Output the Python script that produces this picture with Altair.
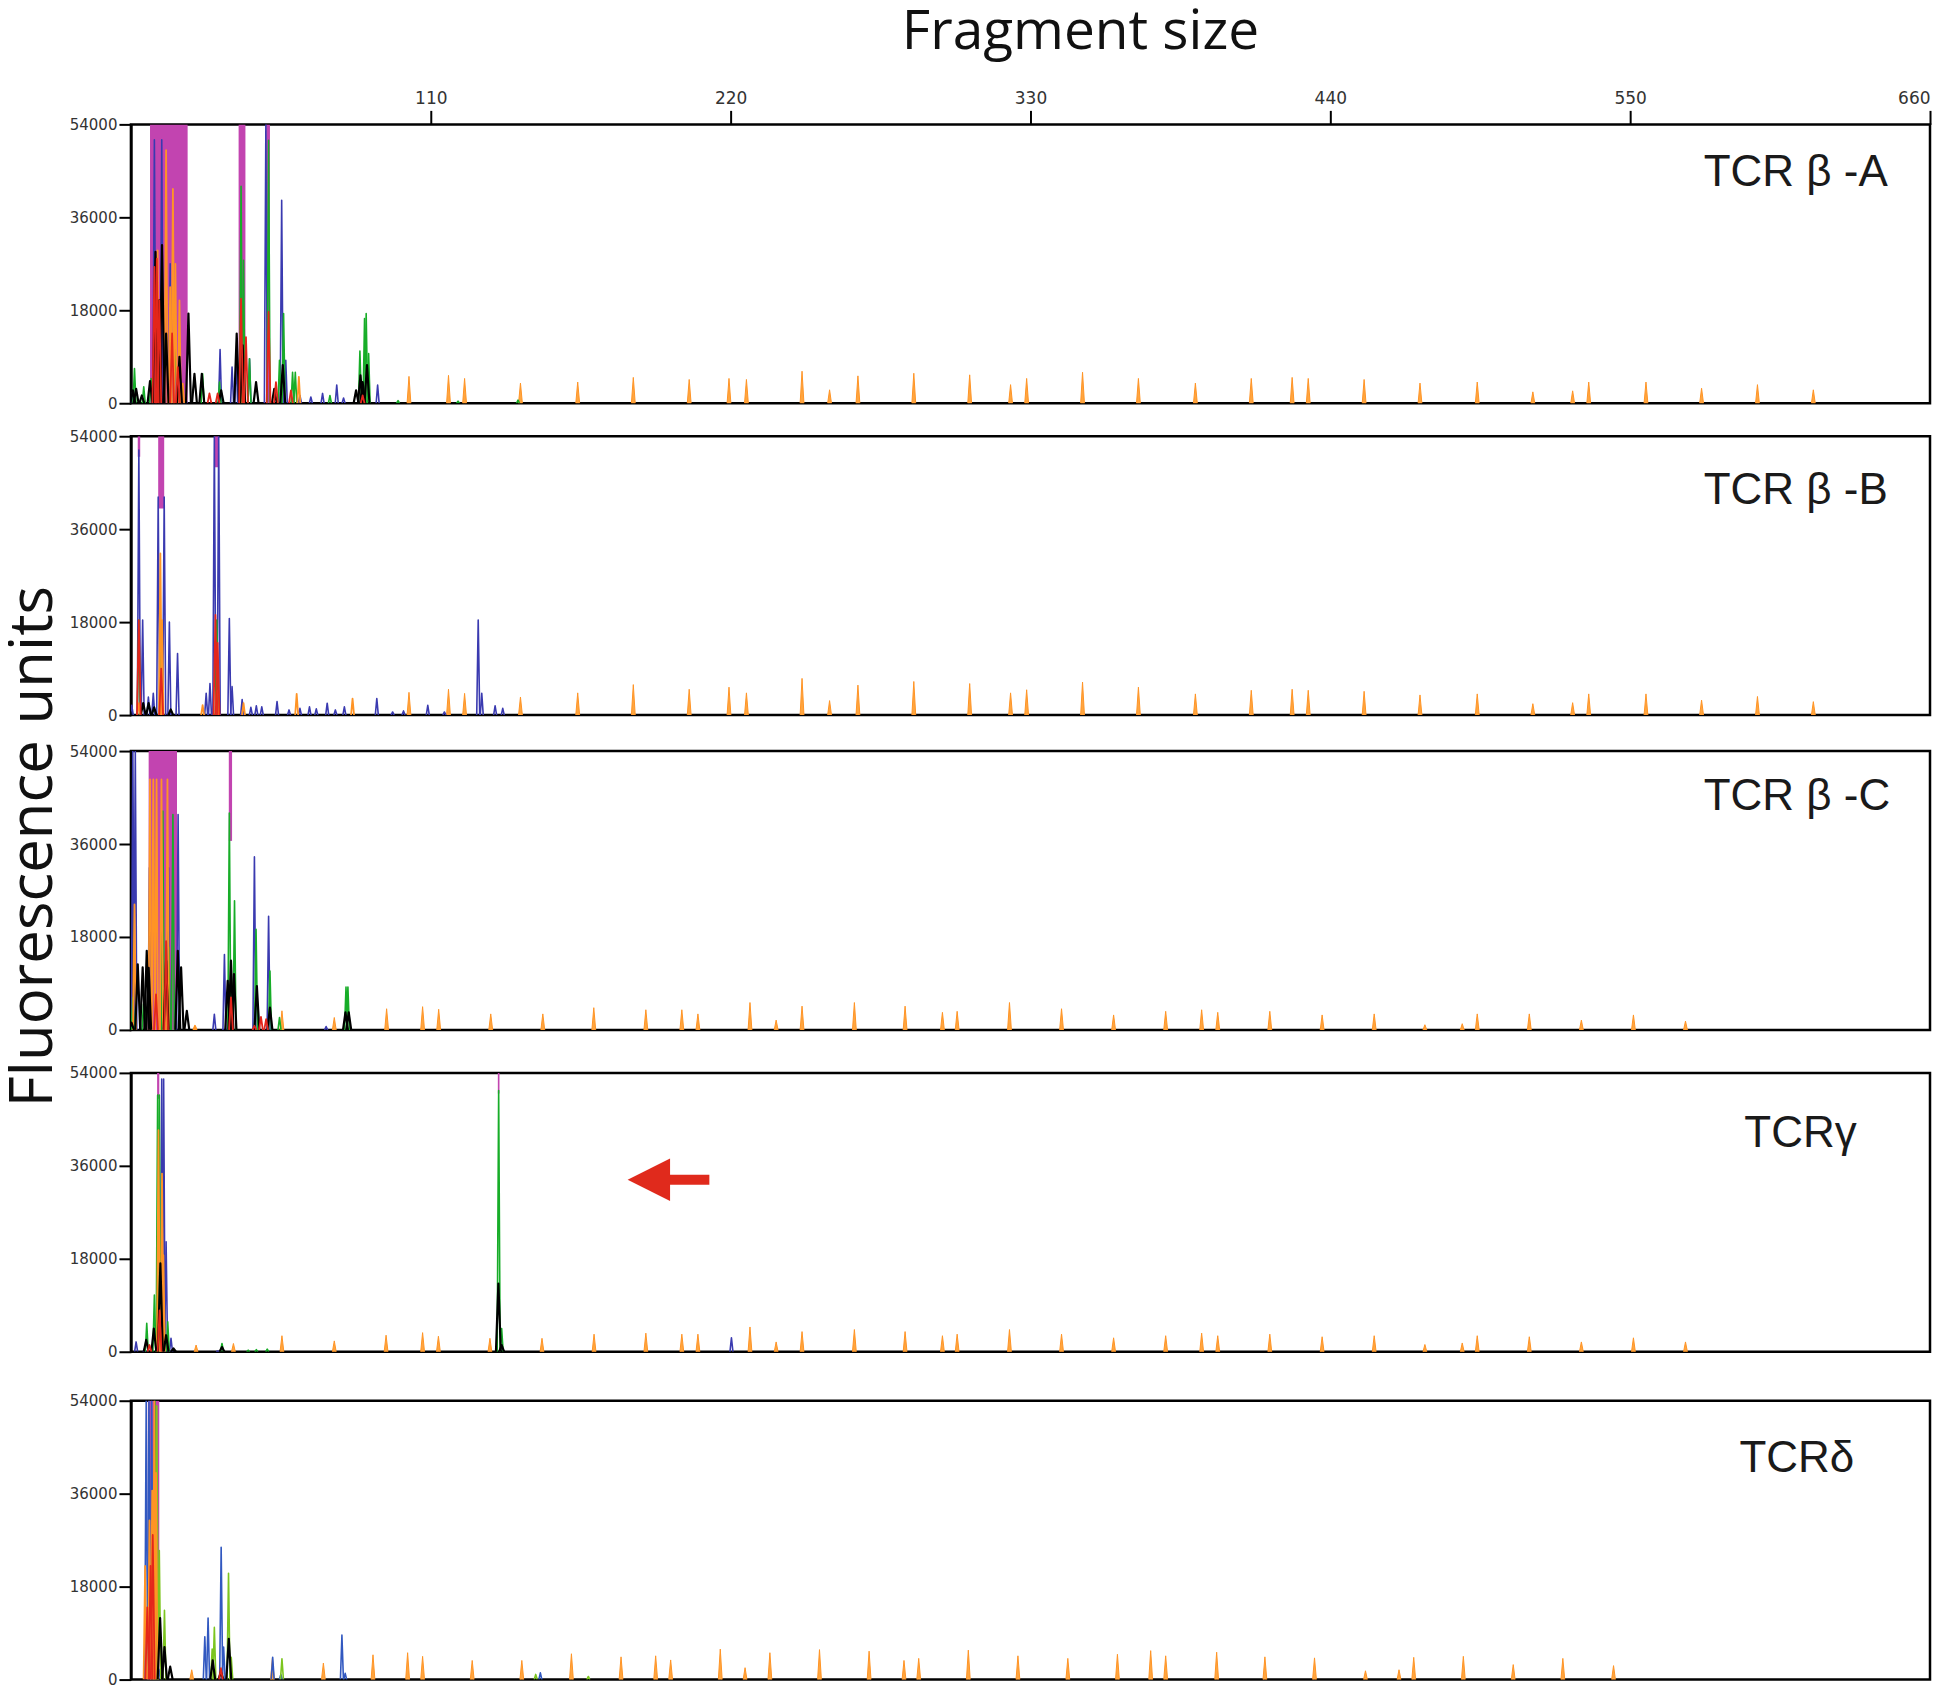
import altair as alt
import pandas as pd

# ---------------- data (fragment size, fluorescence units) ----------------
X_TICKS = [110, 220, 330, 440, 550, 660]
Y_TICKS = [0, 18000, 36000, 54000]
LABELS = ["TCR β -A", "TCR β -B", "TCR β -C", "TCRγ", "TCRδ"]
LABEL_X = [644.5, 644.5, 645.4, 633.1, 632.2]
LABEL_Y = [44600, 43400, 45100, 42200, 42700]

# size-standard ladder (orange) peak positions and heights
ladder12_x = [102.0, 116.5, 122.4, 142.9, 163.9, 184.3, 204.8, 219.4, 225.8, 246.2, 256.3,
              266.7, 287.2, 307.7, 322.7, 328.6, 349.1, 369.6, 390.5, 411.0, 426.0, 431.9,
              452.4, 472.9, 493.9, 514.3, 528.9, 534.8, 555.8, 576.2, 596.7, 617.2]
ladder1_h = [5200, 5400, 4800, 3900, 4100, 5000, 4600, 4800, 4600, 6200, 2600, 5300, 5800,
             5500, 3600, 4800, 6000, 4800, 3900, 4800, 5000, 4800, 4600, 3900, 4100, 2200,
             2400, 4100, 4100, 2900, 3600, 2600]
ladder2_h = [4400, 5000, 4200, 3500, 4300, 5900, 5000, 5400, 4300, 7100, 2800, 5800, 6500,
             6100, 4300, 4900, 6400, 5400, 4100, 4800, 5000, 4800, 4600, 3900, 4100, 2200,
             2400, 4100, 4100, 2900, 3600, 2600]
ladder3_x = [23.5, 55.4, 74.6, 93.8, 107.0, 112.9, 132.0, 151.1, 169.8, 188.9, 202.1, 208.0,
             227.1, 236.7, 246.2, 265.4, 284.0, 297.7, 303.1, 322.3, 341.4, 360.5, 379.6,
             392.8, 398.7, 417.8, 437.0, 456.1, 474.7, 488.4, 493.9, 513.0, 532.1, 551.2, 570.3]
ladder3_h = [800, 3700, 2400, 4100, 4500, 4000, 3100, 3100, 4300, 3900, 3900, 3100, 5300,
             1900, 4600, 5300, 4600, 3400, 3600, 5300, 4100, 2900, 3600, 3900, 3400, 3600,
             2900, 3100, 1000, 1200, 3100, 3100, 1900, 2900, 1700]
ladder4_x = [23.9, 37.6, 55.4, 74.6, 93.6, 107.0, 112.8, 131.7, 150.8, 169.9, 188.9, 202.1,
             208.0, 227.1, 236.7, 246.2, 265.4, 284.0, 297.7, 303.1, 322.3, 341.4, 360.5,
             379.6, 392.8, 398.7, 417.8, 437.0, 456.1, 474.7, 488.4, 493.9, 513.0, 532.1,
             551.2, 570.3]
ladder4_h = [1300, 1600, 3100, 2100, 3200, 3700, 3000, 2600, 2600, 3400, 3600, 3400, 3400,
             4800, 1900, 3900, 4300, 3900, 3100, 3400, 4300, 3400, 2700, 3100, 3600, 3100,
             3400, 2900, 3100, 1400, 1700, 3100, 2900, 1900, 2700, 1900]
ladder5_x = [22.3, 51.9, 70.6, 88.8, 101.5, 107.0, 125.2, 143.4, 161.6, 179.8, 192.5, 198.0,
             216.2, 225.3, 234.4, 252.6, 270.8, 283.6, 289.0, 307.2, 325.4, 343.7, 361.9,
             374.1, 379.6, 398.3, 416.0, 434.2, 452.9, 465.2, 470.6, 488.8, 507.1, 525.3, 543.9]
ladder5_h = [1900, 4200, 3200, 4800, 5200, 4500, 3700, 3700, 5000, 4400, 4600, 3800, 5900,
             2300, 5200, 5800, 5500, 3700, 4100, 5700, 4600, 4100, 4900, 5600, 4600, 5300,
             4400, 4200, 1700, 1900, 4300, 4500, 2900, 4100, 2700]

# saturated (off-scale) regions: start, end, lower edge
p1_sat = [(7.0, 20.8, 0), (39.5, 42.0, 0), (49.6, 51.0, 0)]
p2_sat = [(2.5, 3.4, 50000), (10.0, 12.2, 40000), (30.6, 32.2, 48000)]
p3_sat = [(6.5, 16.9, 0), (35.9, 37.1, 36600)]
p4_sat = [(9.6, 10.4, 49000), (134.6, 135.2, 50000)]
p5_sat = [(6.2, 10.4, 0)]

# dye traces: (size, peak height)
p1_blue = [(0.5, 2000), (8.6, 51000), (11.3, 51000), (14.4, 27000), (20.0, 1000), (32.7, 10400),
           (37.1, 7000), (38.6, 8300), (43.5, 8600), (49.5, 54000), (55.3, 39300), (56.8, 8300),
           (62.0, 1500), (66.0, 1200), (70.3, 1900), (75.5, 3500), (78.0, 1000), (90.5, 3500)]
p1_green = [(1.3, 6700), (4.7, 3200), (7.4, 4800), (16.3, 17350), (26.3, 5700), (32.5, 4100),
            (40.4, 42000), (41.3, 27700), (43.5, 8600), (50.5, 50900), (54.5, 8300), (56.0, 17350),
            (59.3, 6000), (60.3, 6000), (73.0, 1500), (84.0, 10100), (85.7, 16400), (86.3, 17350),
            (87.2, 9600), (98.0, 500), (120.0, 400), (142.0, 600)]
p1_orange = [(9.8, 29600), (12.9, 49000), (14.4, 22500), (15.4, 41500), (16.3, 27000),
             (17.8, 19900), (19.0, 3800), (41.0, 3200), (61.6, 5100), (85.0, 2500)]
p1_black = [(0.7, 2500), (1.9, 2800), (4.0, 1500), (7.0, 4300), (9.0, 29300), (10.4, 19900),
            (11.4, 30600), (12.9, 13500), (17.8, 9000), (21.1, 17350), (23.3, 5700), (26.0, 5700),
            (33.1, 2500), (38.8, 13500), (41.0, 11200), (45.9, 4100), (52.6, 2800), (55.7, 7400),
            (82.6, 2500), (84.2, 5400), (85.0, 4100), (86.6, 7400)]
p1_red = [(8.6, 26400), (9.5, 28000), (10.4, 19900), (15.1, 13500), (17.2, 7000), (28.8, 1900),
          (31.8, 1900), (40.4, 20250), (42.2, 12800), (50.5, 17700), (53.2, 4100), (58.7, 2500),
          (85.0, 1500)]

p2_blue = [(0.3, 1900), (2.9, 51300), (4.3, 18400), (6.4, 3500), (8.2, 4200), (10.0, 42200),
           (12.2, 42200), (14.1, 18000), (17.1, 11900), (27.6, 4200), (29.0, 6100), (30.6, 54000),
           (32.2, 54000), (36.1, 18700), (37.1, 5500), (40.8, 3000), (44.0, 1500), (46.0, 1800),
           (48.0, 1600), (53.6, 2600), (58.0, 1000), (62.0, 1300), (65.5, 1600), (68.0, 1200),
           (72.0, 2300), (75.0, 1000), (78.3, 1600), (90.2, 3200), (96.0, 600), (100.0, 800),
           (108.9, 1900), (115.0, 600), (127.4, 18400), (128.7, 4200), (133.6, 1800), (136.4, 1300)]
p2_green = [(2.9, 18400), (11.1, 17700), (31.5, 18400)]
p2_orange = [(2.9, 2300), (10.8, 31300), (11.4, 18400), (26.3, 1900), (31.5, 4800), (41.3, 2300),
             (60.8, 4100), (81.3, 3200)]
p2_black = [(4.5, 2300), (6.5, 2300), (8.5, 1500), (14.6, 1100)]
p2_red = [(2.9, 18400), (11.1, 9000), (31.0, 19400), (31.8, 14000)]

p3_blue = [(0.7, 54000), (1.6, 54000), (6.8, 31400), (13.8, 31400), (17.3, 41700), (30.6, 3000),
           (34.3, 14600), (45.3, 33500), (50.5, 22000), (71.6, 650)]
p3_green = [(0.7, 6300), (4.6, 5000), (11.7, 42400), (13.9, 16000), (15.4, 41700), (36.1, 42000),
            (38.0, 25000), (45.9, 19500), (51.0, 11400), (54.5, 2400), (78.9, 8300), (79.6, 8300)]
p3_orange = [(1.3, 24300), (7.0, 48500), (8.2, 48500), (9.4, 48500), (11.2, 48500),
             (13.4, 48500), (23.5, 800)]
p3_black = [(0.2, 1400), (2.5, 12700), (4.3, 12100), (5.8, 15300), (6.5, 12000), (12.9, 13400),
            (17.2, 15300), (18.4, 12100), (20.5, 3700), (35.5, 9500), (36.7, 13400), (37.8, 10800),
            (46.2, 8500), (51.0, 4300), (78.7, 3400), (79.9, 3400)]
p3_red = [(9.2, 6900), (12.9, 17200), (36.7, 6300), (45.3, 800), (47.7, 2500), (49.6, 2100)]

p4_blue = [(1.9, 1900), (5.0, 600), (11.3, 52800), (12.0, 52800), (12.9, 21300), (14.7, 2600),
           (31.8, 130), (220.3, 2700)]
p4_green = [(5.8, 5500), (8.6, 11000), (9.8, 49700), (10.4, 49700), (13.5, 5800), (33.4, 1600),
            (43.0, 300), (46.0, 400), (50.0, 500), (134.9, 50600), (136.0, 4500)]
p4_orange = [(10.1, 42900), (11.4, 34500), (11.9, 18700)]
p4_black = [(5.6, 2300), (8.4, 4500), (10.8, 17100), (12.9, 3200), (15.6, 650), (33.4, 900),
            (134.8, 13200), (136.0, 1300)]
p4_red = [(6.8, 1300), (10.5, 8000)]

p5_blue = [(5.6, 54000), (6.6, 54000), (7.6, 54000), (10.7, 2000), (27.1, 8300), (28.3, 11900),
           (33.1, 25600), (34.0, 6300), (52.0, 4300), (55.0, 1000), (77.4, 8600), (78.6, 1200),
           (150.2, 1300)]
p5_green = [(8.8, 54000), (9.2, 44600)]
p5_lgreen = [(9.5, 53000), (10.4, 25000), (12.3, 13400), (29.8, 5900), (30.6, 10100),
             (35.8, 20600), (36.8, 4300), (55.4, 4000), (148.5, 1000), (167.8, 600)]
p5_orange = [(5.2, 22000), (6.8, 30800), (7.8, 36600), (8.6, 54000), (9.2, 40000)]
p5_black = [(10.7, 11900), (12.3, 6300), (14.4, 2500), (30.0, 3700), (33.0, 1500), (35.9, 7900)]
p5_red = [(6.0, 14000), (7.2, 22000), (8.0, 28000), (33.0, 2200)]

ARROW_X = [190.0, 195.6, 212.2]   # head centre, shaft start, shaft end
ARROW_Y = 33300

# ---------------- styling ----------------
COL = {"blue": "#3a3ab0", "green": "#17ad28", "lgreen": "#7cc51f", "orange": "#ff9425",
       "black": "#000000", "red": "#e4261b", "blue5": "#3158c0"}
MAGENTA = "#c244b0"
HW = {"blue": 0.55, "blue5": 0.55, "green": 0.55, "lgreen": 0.55, "orange": 0.55,
      "black": 0.9, "red": 0.7, "ladder": 0.7}
SW = {"blue": 1.6, "blue5": 1.6, "green": 1.6, "lgreen": 1.6, "orange": 1.8, "black": 2.2,
      "red": 1.8}

XS = alt.Scale(domain=[0, 660], nice=False, zero=False)
YS = alt.Scale(domain=[0, 54000], nice=False)
TICK_FONT = "DejaVu Sans"


def spikes(peaks, hw):
    rows = []
    k = 0
    for p, (x, h) in enumerate(sorted(peaks)):
        for px, py in ((x - hw, 0), (x, h), (x + hw, 0)):
            rows.append({"x": px, "y": py, "o": k, "p": p})
            k += 1
    return pd.DataFrame(rows)


def make_panel(idx, sat, traces, ladder_x, ladder_h, top_axis=False, arrow=False):
    if top_axis:
        xaxis = alt.Axis(orient="top", values=X_TICKS, title=None, tickSize=14, tickWidth=2,
                         labelFont=TICK_FONT, labelFontSize=17, labelPadding=3, domain=False,
                         grid=False, labelColor="#333", tickColor="black")
    else:
        xaxis = None
    yaxis = alt.Axis(values=Y_TICKS, format="d", title=None, tickSize=12, tickWidth=2,
                     labelFont=TICK_FONT, labelFontSize=15, labelPadding=2, grid=False,
                     domainWidth=2.5, domainColor="black", tickColor="black", labelColor="#333")
    X = lambda f: alt.X(f, type="quantitative", scale=XS, axis=xaxis)
    Y = lambda f: alt.Y(f, type="quantitative", scale=YS, axis=yaxis, stack=None)

    layers = []
    sat_df = pd.DataFrame(sat, columns=["x0", "x1", "yb"]).assign(yt=54000)
    layers.append(alt.Chart(sat_df).mark_rect(color=MAGENTA, clip=True).encode(
        x=X("x0"), x2="x1", y=Y("yb"), y2="yt"))
    ldf = spikes(list(zip(ladder_x, ladder_h)), HW["ladder"])
    layers.append(alt.Chart(ldf).mark_area(orient="vertical", fill="#ffa640", stroke=COL["orange"],
                                           strokeWidth=1.0, fillOpacity=1, clip=True).encode(
        x=X("x"), y=Y("y"), y2=alt.datum(0), detail="p:N"))
    for name, peaks in traces:
        df = spikes(peaks, HW[name])
        layers.append(alt.Chart(df).mark_line(color=COL[name], strokeWidth=SW[name],
                                              clip=True, strokeJoin="round").encode(
            x=X("x"), y=Y("y"), detail="p:N", order="o:Q"))
    tdf = pd.DataFrame({"x": [LABEL_X[idx]], "y": [LABEL_Y[idx]], "t": [LABELS[idx]]})
    layers.append(alt.Chart(tdf).mark_text(align="right", baseline="middle",
                                           font="Liberation Sans", fontSize=44,
                                           color="#1a1a1a").encode(
        x=X("x"), y=Y("y"), text="t:N"))
    if arrow:
        sdf = pd.DataFrame({"x": [ARROW_X[1]], "x2": [ARROW_X[2]], "y": [ARROW_Y]})
        layers.append(alt.Chart(sdf).mark_rule(color="#e02a1c", strokeWidth=10).encode(
            x=X("x"), x2="x2", y=Y("y")))
        hdf = pd.DataFrame({"x": [ARROW_X[0]], "y": [ARROW_Y]})
        layers.append(alt.Chart(hdf).mark_point(shape="M -1 0 L 1 -1 L 1 1 Z", size=1800,
                                                filled=True, opacity=1, color="#e02a1c",
                                                strokeWidth=0).encode(
            x=X("x"), y=Y("y")))
    ch = alt.layer(*layers).properties(width=1800, height=279)
    if top_axis:
        ch = ch.properties(title=alt.TitleParams("Fragment size", font="Open Sans", fontSize=55,
                                                 fontWeight="normal", anchor="middle", dx=50,
                                                 offset=28, color="#111"))
    return ch


p1 = make_panel(0, p1_sat, [("blue", p1_blue), ("green", p1_green), ("orange", p1_orange),
                            ("black", p1_black), ("red", p1_red)],
                ladder12_x, ladder1_h, top_axis=True)
p2 = make_panel(1, p2_sat, [("blue", p2_blue), ("green", p2_green), ("orange", p2_orange),
                            ("black", p2_black), ("red", p2_red)], ladder12_x, ladder2_h)
p3 = make_panel(2, p3_sat, [("blue", p3_blue), ("green", p3_green), ("orange", p3_orange),
                            ("black", p3_black), ("red", p3_red)], ladder3_x, ladder3_h)
p4 = make_panel(3, p4_sat, [("blue", p4_blue), ("green", p4_green), ("orange", p4_orange),
                            ("black", p4_black), ("red", p4_red)], ladder4_x, ladder4_h,
                arrow=True)
p5 = make_panel(4, p5_sat, [("blue5", p5_blue), ("green", p5_green), ("lgreen", p5_lgreen),
                            ("orange", p5_orange), ("black", p5_black), ("red", p5_red)],
                ladder5_x, ladder5_h)

a = alt.vconcat(p1, p2, spacing=14)
b = alt.vconcat(a, p3, spacing=17)
c = alt.vconcat(b, p4, spacing=24)
chart = alt.vconcat(c, p5, spacing=30).properties(
    title=alt.TitleParams("Fluorescence units", orient="left", anchor="middle", font="Open Sans",
                          fontSize=60, fontWeight="normal", offset=3, color="#111"),
    padding={"left": -4, "top": -5, "right": 5, "bottom": 5},
).configure_view(stroke="black", strokeWidth=2.5)

chart.save("out.html", embed_options={"renderer": "svg", "actions": False})
